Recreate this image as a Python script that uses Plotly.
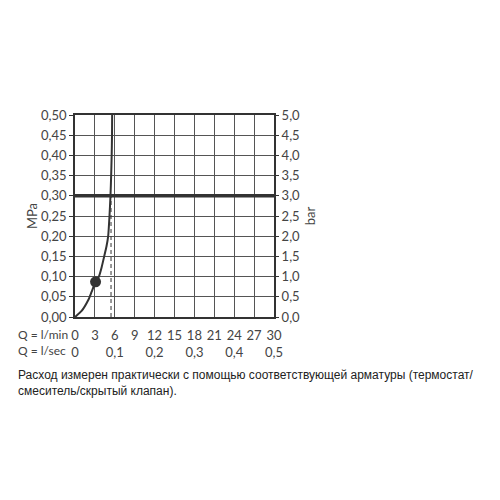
import plotly.graph_objects as go

# curve: flow (l/min) vs pressure (MPa)
flow_lmin = [0, 1, 2, 2.5, 3, 3.6, 4.0, 4.4, 4.75, 5.0, 5.2, 5.35, 5.45, 5.53, 5.58, 5.6]
pressure_mpa = [0, 0.015, 0.042, 0.062, 0.083, 0.10, 0.122, 0.15, 0.175, 0.20, 0.25, 0.30, 0.35, 0.40, 0.45, 0.50]

# operating point
point_flow = [3.1]
point_pressure = [0.087]

# 3 bar reference line and flow at 3 bar
ref_pressure = 0.30
ref_flow = 5.43

x_ticks = [0, 3, 6, 9, 12, 15, 18, 21, 24, 27, 30]
x_lmin_labels = ["0", "3", "6", "9", "12", "15", "18", "21", "24", "27", "30"]
x_lsec_labels = ["0", "", "0,1", "", "0,2", "", "0,3", "", "0,4", "", "0,5"]
x_row_names = ["Q = l/min", "Q = l/sec"]

mpa_ticks = [0, 0.05, 0.10, 0.15, 0.20, 0.25, 0.30, 0.35, 0.40, 0.45, 0.50]
mpa_labels = ["0,00", "0,05", "0,10", "0,15", "0,20", "0,25", "0,30", "0,35", "0,40", "0,45", "0,50"]
bar_ticks = [0, 0.5, 1, 1.5, 2, 2.5, 3, 3.5, 4, 4.5, 5]
bar_labels = ["0,0", "0,5", "1,0", "1,5", "2,0", "2,5", "3,0", "3,5", "4,0", "4,5", "5,0"]

caption = ("Расход измерен практически с помощью соответствующей арматуры (термостат/<br>"
           "смеситель/скрытый клапан).")

ink = "#333333"
txt = "#444444"
font_family = "Lato, 'DejaVu Sans', sans-serif"

fig = go.Figure()

fig.add_trace(go.Scatter(
    x=[0, 30], y=[ref_pressure, ref_pressure], mode="lines",
    line=dict(color=ink, width=3.5), showlegend=False, hoverinfo="skip"
))
fig.add_trace(go.Scatter(
    x=[ref_flow, ref_flow], y=[0, ref_pressure], mode="lines",
    line=dict(color=ink, width=1, dash="4px,3px"), showlegend=False, hoverinfo="skip"
))
fig.add_trace(go.Scatter(
    x=flow_lmin, y=pressure_mpa, mode="lines",
    line=dict(color=ink, width=2, shape="spline", smoothing=0.6), showlegend=False
))
fig.add_trace(go.Scatter(
    x=point_flow, y=point_pressure, mode="markers",
    marker=dict(color=ink, size=11), showlegend=False
))
# invisible trace to activate the bar axis
fig.add_trace(go.Scatter(
    x=[0], y=[0], yaxis="y2", mode="markers",
    marker=dict(opacity=0), showlegend=False, hoverinfo="skip"
))

fig.update_layout(
    width=492, height=492,
    margin=dict(l=67, r=226, t=107, b=183),
    plot_bgcolor="white", paper_bgcolor="white",
    font=dict(family=font_family, size=13, color=txt),
    xaxis=dict(
        range=[0, 30], tickvals=x_ticks,
        ticktext=[a + "<br>" + b for a, b in zip(x_lmin_labels, x_lsec_labels)],
        showgrid=True, gridcolor="#555555", gridwidth=1,
        showline=True, linecolor=ink, linewidth=1.5, mirror=True,
        ticks="", zeroline=False, ticklabelstandoff=6,
    ),
    yaxis=dict(
        range=[0, 0.5], tickvals=mpa_ticks, ticktext=mpa_labels,
        showgrid=True, gridcolor="#555555", gridwidth=1,
        showline=True, linecolor=ink, linewidth=1.5, mirror=True,
        ticks="outside", ticklen=4, tickcolor=ink, zeroline=False,
        title=dict(text="MPa", standoff=1, font=dict(size=13, color=txt)),
    ),
    yaxis2=dict(
        range=[0, 5], tickvals=bar_ticks, ticktext=bar_labels,
        overlaying="y", side="right", showgrid=False,
        ticks="outside", ticklen=4, tickcolor=ink, zeroline=False,
        title=dict(text="bar", standoff=6, font=dict(size=13, color=txt)),
    ),
    annotations=[
        dict(text="<br>".join(x_row_names), xref="paper", yref="paper", x=-0.296, y=-0.127,
             xanchor="left", yanchor="middle", align="left", showarrow=False,
             font=dict(family=font_family, size=12, color=txt)),
        dict(text=caption, xref="paper", yref="paper", x=-0.296, y=-0.245,
             xanchor="left", yanchor="top", align="left", showarrow=False,
             font=dict(family="Liberation Sans, Arial, sans-serif", size=12, color="#222222")),
    ],
)

fig.write_html("out.html")
